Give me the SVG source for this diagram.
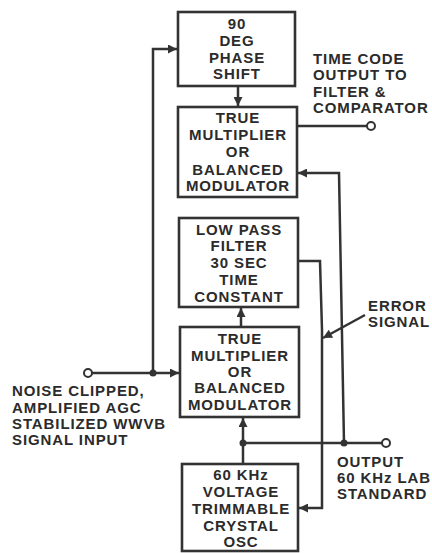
<svg xmlns="http://www.w3.org/2000/svg" width="432" height="553" viewBox="0 0 432 553">
<style>
.box{fill:#fff;stroke:#333;stroke-width:2.6}
.ln{fill:none;stroke:#333;stroke-width:2.5}
.t{font-family:"Liberation Sans",Arial,sans-serif;font-weight:bold;font-size:15px;fill:#2b2b2b;letter-spacing:0.9px}
.c{text-anchor:middle}
.dot{fill:#333}
.term{fill:#fff;stroke:#333;stroke-width:2}
</style>
<defs>
<marker id="ah" viewBox="0 0 10 10" refX="10" refY="5" markerWidth="10" markerHeight="9" markerUnits="userSpaceOnUse" orient="auto">
<path d="M0,0 L10,5 L0,10 Z" fill="#333"/>
</marker>
</defs>
<rect width="432" height="553" fill="#fff"/>
<g id="connectors">
<path class="ln" d="M92,373 H179" marker-end="url(#ah)"/>
<path class="ln" d="M153,373 V49 H177" marker-end="url(#ah)"/>
<path class="ln" d="M238,86 V106" marker-end="url(#ah)"/>
<path class="ln" d="M297,126 H367"/>
<path class="ln" d="M344,443 L339,173 H298" marker-end="url(#ah)"/>
<path class="ln" d="M241,327 V308" marker-end="url(#ah)"/>
<path class="ln" d="M298,261 H320 L322,330 V508 H299" marker-end="url(#ah)"/>
<path class="ln" d="M243,443 H382"/>
<path class="ln" d="M243,464 V443 V418" marker-end="url(#ah)"/>
<path class="ln" d="M365,315 L323,338" marker-end="url(#ah)"/>
<circle class="dot" cx="153" cy="373" r="3.5"/>
<circle class="dot" cx="243" cy="443" r="3.5"/>
<circle class="dot" cx="344" cy="443" r="3.5"/>
<circle class="term" cx="88" cy="373" r="4"/>
<circle class="term" cx="371" cy="126" r="4"/>
<circle class="term" cx="386" cy="443" r="4"/>
</g>
<g id="phase-shift">
<rect class="box" x="178" y="12" width="117" height="74"/>
<text class="t c" x="237" y="29">90</text>
<text class="t c" x="237" y="46">DEG</text>
<text class="t c" x="237" y="63">PHASE</text>
<text class="t c" x="237" y="79">SHIFT</text>
</g>
<g id="multiplier-top">
<rect class="box" x="178" y="107" width="119" height="90"/>
<text class="t c" x="238" y="123">TRUE</text>
<text class="t c" x="238" y="140">MULTIPLIER</text>
<text class="t c" x="238" y="157">OR</text>
<text class="t c" x="238" y="175">BALANCED</text>
<text class="t c" x="238" y="191">MODULATOR</text>
</g>
<g id="low-pass">
<rect class="box" x="179" y="218" width="119" height="89"/>
<text class="t c" x="239" y="235">LOW PASS</text>
<text class="t c" x="239" y="251">FILTER</text>
<text class="t c" x="239" y="268">30 SEC</text>
<text class="t c" x="239" y="285">TIME</text>
<text class="t c" x="239" y="302">CONSTANT</text>
</g>
<g id="multiplier-bottom">
<rect class="box" x="180" y="327" width="119" height="90"/>
<text class="t c" x="240" y="344">TRUE</text>
<text class="t c" x="240" y="361">MULTIPLIER</text>
<text class="t c" x="240" y="377">OR</text>
<text class="t c" x="240" y="393">BALANCED</text>
<text class="t c" x="240" y="410">MODULATOR</text>
</g>
<g id="oscillator">
<rect class="box" x="182" y="464" width="116" height="87"/>
<text class="t c" x="241" y="480">60 KHz</text>
<text class="t c" x="241" y="497">VOLTAGE</text>
<text class="t c" x="241" y="514">TRIMMABLE</text>
<text class="t c" x="241" y="531">CRYSTAL</text>
<text class="t c" x="241" y="547">OSC</text>
</g>
<g id="label-timecode">
<text class="t" x="313" y="64">TIME CODE</text>
<text class="t" x="313" y="80">OUTPUT TO</text>
<text class="t" x="313" y="97">FILTER &amp;</text>
<text class="t" x="313" y="113">COMPARATOR</text>
</g>
<g id="label-error">
<text class="t" x="368" y="311">ERROR</text>
<text class="t" x="368" y="327">SIGNAL</text>
</g>
<g id="label-input">
<text class="t" x="12" y="396">NOISE CLIPPED,</text>
<text class="t" x="12" y="413">AMPLIFIED AGC</text>
<text class="t" x="12" y="429">STABILIZED WWVB</text>
<text class="t" x="12" y="445">SIGNAL INPUT</text>
</g>
<g id="label-output">
<text class="t" x="337" y="467">OUTPUT</text>
<text class="t" x="337" y="483">60 KHz LAB</text>
<text class="t" x="337" y="499">STANDARD</text>
</g>
</svg>
